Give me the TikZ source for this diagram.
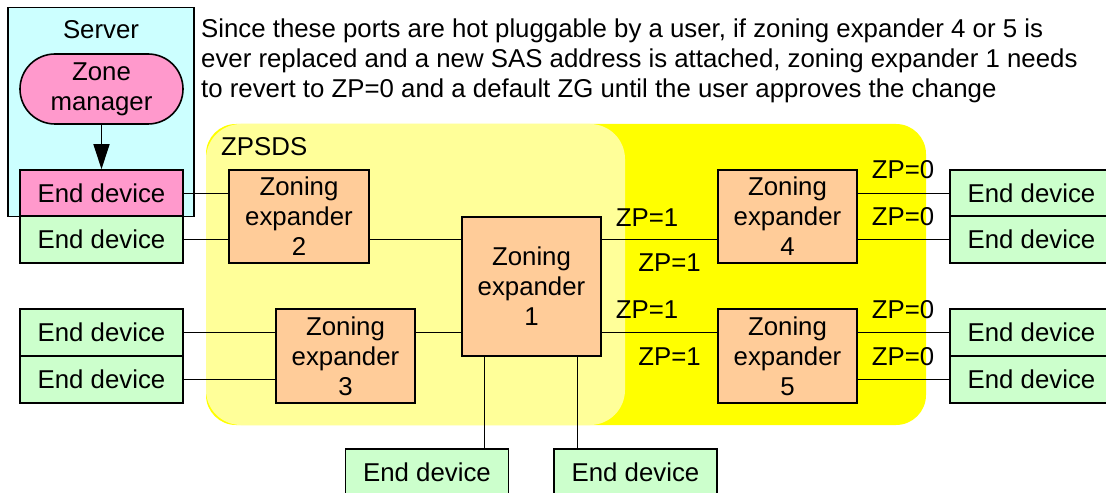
\documentclass[tikz,border=0pt]{standalone}
\usepackage{fontspec}
\setmainfont{Liberation Sans}
\usetikzlibrary{arrows.meta}
\definecolor{srvcyan}{HTML}{CCFFFF}
\definecolor{zmpink}{HTML}{FF99CC}
\definecolor{edgreen}{HTML}{CCFFCC}
\definecolor{zeorange}{HTML}{FFCC99}
\definecolor{zonelight}{HTML}{FFFF99}
\definecolor{zonebright}{HTML}{FFFF00}
\newcommand\diagfont{\fontsize{25.8bp}{30bp}\selectfont}
\begin{document}
\begin{tikzpicture}[x=1bp,y=-1bp,
  box/.style={draw, line width=1.6bp, inner sep=0pt, align=center, font=\diagfont},
  endev/.style={box, fill=edgreen, minimum width=163bp, minimum height=47bp},
  zexp/.style={box, fill=zeorange, minimum width=139bp, minimum height=94bp},
  link/.style={line width=1.4bp},
  lbl/.style={inner sep=0pt, font=\diagfont}]
\useasboundingbox (0,0) rectangle (1106,493);
\clip (0,0) rectangle (1106,493);
\fill[white] (0,0) rectangle (1106,493);

% zoning regions
\fill[zonebright, rounded corners=30bp] (206,124) rectangle (926,425);
\fill[zonelight, rounded corners=35bp] (206,124) rectangle (625,425);
\node[lbl, anchor=west] (zpsds) at (221,146.5) {ZPSDS};

% server with its zone manager
\node[draw, fill=srvcyan, line width=1.6bp, minimum width=186bp, minimum height=209bp, inner sep=0pt] (server) at (101,112) {};
\node[lbl] (srvlabel) at (101,30) {Server};
\node[box, fill=zmpink, minimum width=163bp, minimum height=70bp, rounded corners=35bp] (zm) at (101.5,89) {Zone\\manager};

% end devices
\node[endev, fill=zmpink] (pe) at (101.5,193.5) {End device};
\node[endev] (eg) at (101.5,239.5) {End device};
\node[endev] (el1) at (101.5,332.5) {End device};
\node[endev] (el2) at (101.5,379.5) {End device};
\node[endev] (r1) at (1031.5,193.5) {End device};
\node[endev] (r2) at (1031.5,239.5) {End device};
\node[endev] (r3) at (1031.5,332.5) {End device};
\node[endev] (r4) at (1031.5,379.5) {End device};
\node[endev] (b1) at (427,472.5) {End device};
\node[endev] (b2) at (635.5,472.5) {End device};

% zoning expanders
\node[zexp, minimum width=140bp, minimum height=93bp] (ze2) at (299,216.5) {Zoning\\expander\\2};
\node[zexp] (ze3) at (345.5,356) {Zoning\\expander\\3};
\node[zexp, minimum height=139bp] (ze1) at (531.5,286.5) {Zoning\\expander\\1};
\node[zexp, minimum height=93bp] (ze4) at (787.5,216.5) {Zoning\\expander\\4};
\node[zexp] (ze5) at (787.5,356) {Zoning\\expander\\5};

% links
\draw[link, -{Triangle[length=25bp,width=16bp]}] (zm.south) -- (pe.north);
\draw[link] (pe.east) -- (pe.east -| ze2.west);
\draw[link] (eg.east) -- (eg.east -| ze2.west);
\draw[link] (ze2.east |- eg.east) -- (ze1.west |- eg.east);
\draw[link] (el1.east) -- (el1.east -| ze3.west);
\draw[link] (el2.east) -- (el2.east -| ze3.west);
\draw[link] (ze3.east |- el1.east) -- (ze1.west |- el1.east);
\draw[link] (ze1.east |- r2.west) -- (ze4.west |- r2.west);
\draw[link] (ze1.east |- r3.west) -- (ze5.west |- r3.west);
\draw[link] (ze4.east |- r1.west) -- (r1.west);
\draw[link] (ze4.east |- r2.west) -- (r2.west);
\draw[link] (ze5.east |- r3.west) -- (r3.west);
\draw[link] (ze5.east |- r4.west) -- (r4.west);
\draw[link] ([xshift=-47bp]ze1.south) -- ([xshift=-47bp]ze1.south |- b1.north);
\draw[link] ([xshift=46bp]ze1.south) -- ([xshift=46bp]ze1.south |- b2.north);

% zone permission labels
\node[lbl] (zp1a) at (647,217.5) {ZP=1};
\node[lbl] (zp1b) at (669.5,262.5) {ZP=1};
\node[lbl] (zp1c) at (647,309.5) {ZP=1};
\node[lbl] (zp1d) at (669.5,356.5) {ZP=1};
\node[lbl] (zp0a) at (903,169.5) {ZP=0};
\node[lbl] (zp0b) at (903,217) {ZP=0};
\node[lbl] (zp0c) at (903,309.5) {ZP=0};
\node[lbl] (zp0d) at (903,356.5) {ZP=0};

% note
\node[lbl, anchor=north west, align=left] (note) at (201,19)
  {Since these ports are hot pluggable by a user, if zoning expander 4 or 5 is\\
   ever replaced and a new SAS address is attached, zoning expander 1 needs\\
   to revert to ZP=0 and a default ZG until the user approves the change};
\end{tikzpicture}
\end{document}
